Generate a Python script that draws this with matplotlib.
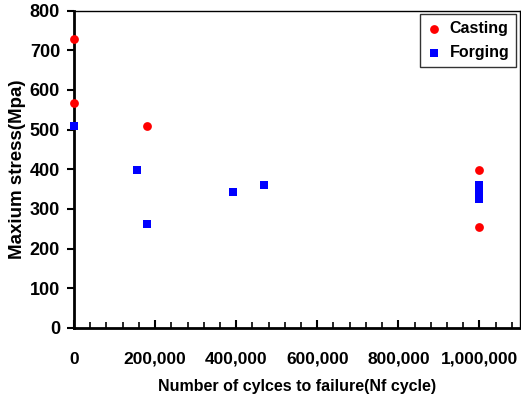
import matplotlib.pyplot as plt
from matplotlib.ticker import FuncFormatter, MultipleLocator

# fatigue data
casting_cycles = [0, 0, 181000, 1000000, 1000000]
casting_stress = [727, 567, 509, 398, 254]

forging_cycles = [0, 155000, 181000, 391000, 468000,
                  1000000, 1000000, 1000000, 1000000]
forging_stress = [509, 398, 262, 342, 361, 361, 343, 334, 325]

plt.rcParams["font.family"] = ["Liberation Sans", "DejaVu Sans"]
plt.rcParams["font.weight"] = "bold"

fig = plt.figure(figsize=(5.21, 4.01), dpi=100)
ax = fig.add_axes([74 / 521, 73 / 401, 446 / 521, 317.5 / 401])

ax.scatter(casting_cycles, casting_stress, s=40, marker="o", color="#ff0000",
           linewidths=0, label="Casting", zorder=3, clip_on=False)
ax.scatter(forging_cycles, forging_stress, s=26, marker="s", color="#0000ff",
           linewidths=0, label="Forging", zorder=3, clip_on=False)

ax.set_xlim(0, 1100000)
ax.set_ylim(0, 800)
ax.xaxis.set_major_locator(MultipleLocator(200000))
ax.xaxis.set_minor_locator(MultipleLocator(40000))
ax.yaxis.set_major_locator(MultipleLocator(100))
ax.xaxis.set_major_formatter(FuncFormatter(lambda v, p: f"{int(v):,}"))

for s in ax.spines.values():
    s.set_linewidth(1.0)
ax.spines["left"].set_linewidth(2.0)
ax.spines["bottom"].set_linewidth(2.0)

ax.tick_params(axis="x", which="major", direction="in", length=6, width=1.5,
               pad=17, labelsize=12.5)
ax.tick_params(axis="x", which="minor", direction="in", length=4, width=1.2)
ax.tick_params(axis="y", which="major", direction="out", length=5, width=1.5,
               pad=5, labelsize=13)

ax.set_xlabel("Number of cylces to failure(Nf cycle)", fontsize=11.5,
              fontweight="bold", labelpad=9)
ax.set_ylabel("Maxium stress(Mpa)", fontsize=13.5, fontweight="bold",
              labelpad=3)

leg = ax.legend(loc="upper right", fontsize=11.5, frameon=True, fancybox=False,
                edgecolor="black", borderpad=0.4, handletextpad=0.5,
                handlelength=1.0, labelspacing=0.6, borderaxespad=0.25)
leg.get_frame().set_linewidth(1.0)

fig.savefig("out.png", dpi=100)
